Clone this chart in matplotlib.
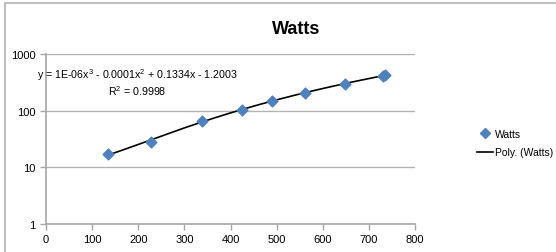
import numpy as np
import matplotlib
matplotlib.use("Agg")
from matplotlib import pyplot as plt
from matplotlib.lines import Line2D
from matplotlib.patches import Rectangle

# readings
x_vals = [135, 228, 338, 425, 491, 561, 648, 730, 734]
watts = [17.2, 28.3, 65, 104, 148, 206, 300, 410, 420]
equation = "y = 1E-06x$^3$ - 0.0001x$^2$ + 0.1334x - 1.2003"
r2_text = "R$^2$ = 0.9998"

plt.rcParams['font.family'] = ['Liberation Sans', 'DejaVu Sans']
plt.rcParams['mathtext.fontset'] = 'custom'
plt.rcParams['mathtext.rm'] = 'Liberation Sans'

fig = plt.figure(figsize=(5.56, 2.53), dpi=100)
W, H = 556, 253
ax = fig.add_axes([46 / W, 1 - 224.7 / H, (415 - 46) / W, (224.7 - 55) / H])

# outer chart border
fig.patches.append(Rectangle((5 / W, -0.1), 1.2, 1 - 4 / H + 0.1,
                             transform=fig.transFigure, fill=False,
                             edgecolor='#b3b3b3', linewidth=1.2))

coef = np.polyfit(x_vals, watts, 3)
xs = np.linspace(min(x_vals), max(x_vals), 200)
ax.plot(xs, np.polyval(coef, xs), color='black', linewidth=1.2, zorder=2)
ax.scatter(x_vals, watts, marker='D', s=30, color='#4f81bd', zorder=3)

ax.set_yscale('log')
ax.set_ylim(1, 1000)
ax.set_xlim(0, 800)
ax.set_xticks(range(0, 801, 100))
ax.set_yticks([1, 10, 100, 1000])
ax.set_yticklabels(['1', '10', '100', '1000'])
ax.minorticks_off()
ax.yaxis.grid(True, color='#b3b3b3', linewidth=1)
ax.set_axisbelow(True)
for s in ['top', 'right']:
    ax.spines[s].set_visible(False)
for s in ['left', 'bottom']:
    ax.spines[s].set_color('#a6a6a6')
    ax.spines[s].set_linewidth(1.2)
ax.tick_params(axis='both', colors='#a6a6a6', labelcolor='black',
               labelsize=8, length=4, width=1)

fig.text(296 / W, 1 - 30 / H, "Watts", ha='center', va='center',
         fontsize=13, fontweight='bold')
fig.text(137 / W, 1 - 75 / H, equation, ha='center', va='center', fontsize=7.7)
fig.text(137 / W, 1 - 91 / H, r2_text, ha='center', va='center', fontsize=7.7)

handles = [Line2D([], [], marker='D', linestyle='none', color='#4f81bd', markersize=5),
           Line2D([], [], color='black', linewidth=1.2)]
fig.legend(handles, ['Watts', 'Poly. (Watts)'], loc='center left',
           bbox_to_anchor=(468 / W, 1 - 144 / H), frameon=False, fontsize=7.5,
           handlelength=1.5, handletextpad=0.2, labelspacing=0.8)

fig.savefig("out.png", dpi=100)
